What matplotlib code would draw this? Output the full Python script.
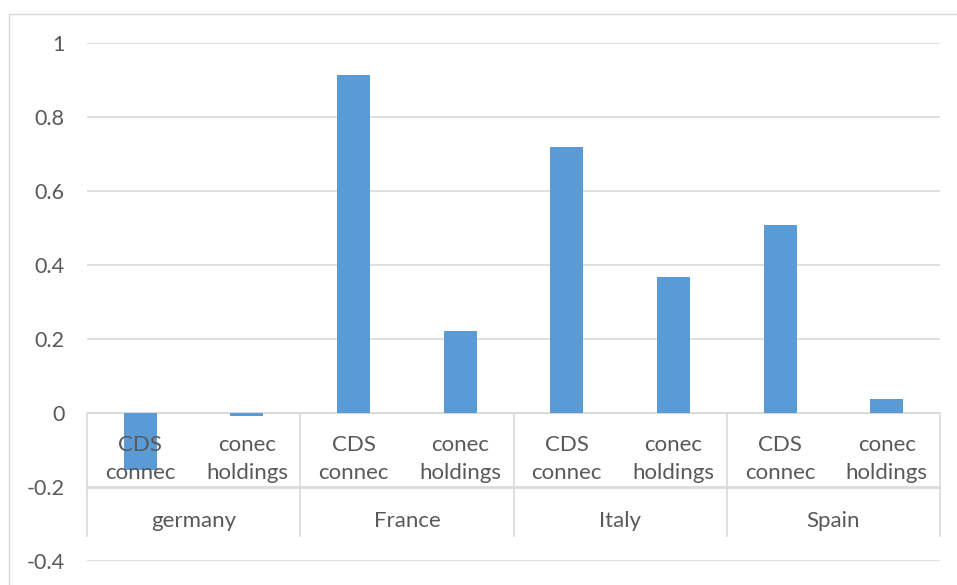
import numpy as np
import matplotlib
matplotlib.use("Agg")
import matplotlib.pyplot as plt
from matplotlib.patches import Rectangle

# data
countries = ["germany", "France", "Italy", "Spain"]
series = ["CDS\nconnec", "conec\nholdings"]
values = [-0.155, -0.01, 0.913, 0.22, 0.718, 0.366, 0.509, 0.038]
yticks = [-0.4, -0.2, 0, 0.2, 0.4, 0.6, 0.8, 1]

plt.rcParams['font.family'] = ['Lato', 'DejaVu Sans']
txt = '#595959'
grid = '#d9d9d9'
bar_c = '#5b9bd5'

W, H = 957, 585
fig = plt.figure(figsize=(W / 100, H / 100), dpi=100)

# outer chart frame (cut off at right/bottom like the reference)
fig.patches.append(Rectangle((9 / W, -0.1), 1.0, 1 - 14 / H + 0.1,
                             transform=fig.transFigure, fill=False,
                             edgecolor=grid, lw=1.0))

ax = fig.add_axes([87 / W, 1 - 560.7 / H, (940 - 87) / W, (560.7 - 43) / H])
x = np.arange(len(values))
ax.bar(x, values, width=0.31, color=bar_c, zorder=3)

ax.set_xlim(-0.5, len(values) - 0.5)
ax.set_ylim(-0.4, 1)
ax.set_yticks(yticks)
ax.set_yticklabels(["-0.4", "-0.2", "0", "0.2", "0.4", "0.6", "0.8", "1"])
ax.tick_params(axis='y', length=0, pad=16, labelsize=15.5, labelcolor=txt)
ax.set_xticks([])
for s in ax.spines.values():
    s.set_visible(False)
ax.yaxis.grid(True, color=grid, lw=1.2, zorder=0)

# multi-level category axis
ax.axhline(0, color=grid, lw=1.2, zorder=2)
ax.plot([-0.5, len(values) - 0.5], [-0.203, -0.203], color=grid, lw=1.2,
        clip_on=False, zorder=2)
for b in range(len(countries) + 1):
    xb = b * 2 - 0.5
    ax.plot([xb, xb], [0, -0.333], color=grid, lw=1.2, clip_on=False, zorder=2)
for i in x:
    ax.text(i, -0.125, series[i % 2], ha='center', va='center', fontsize=16,
            color=txt, linespacing=1.5, zorder=4)
for j, c in enumerate(countries):
    ax.text(j * 2 + 0.5, -0.293, c, ha='center', va='center', fontsize=16,
            color=txt, zorder=4)

fig.savefig("out.png", dpi=100)
